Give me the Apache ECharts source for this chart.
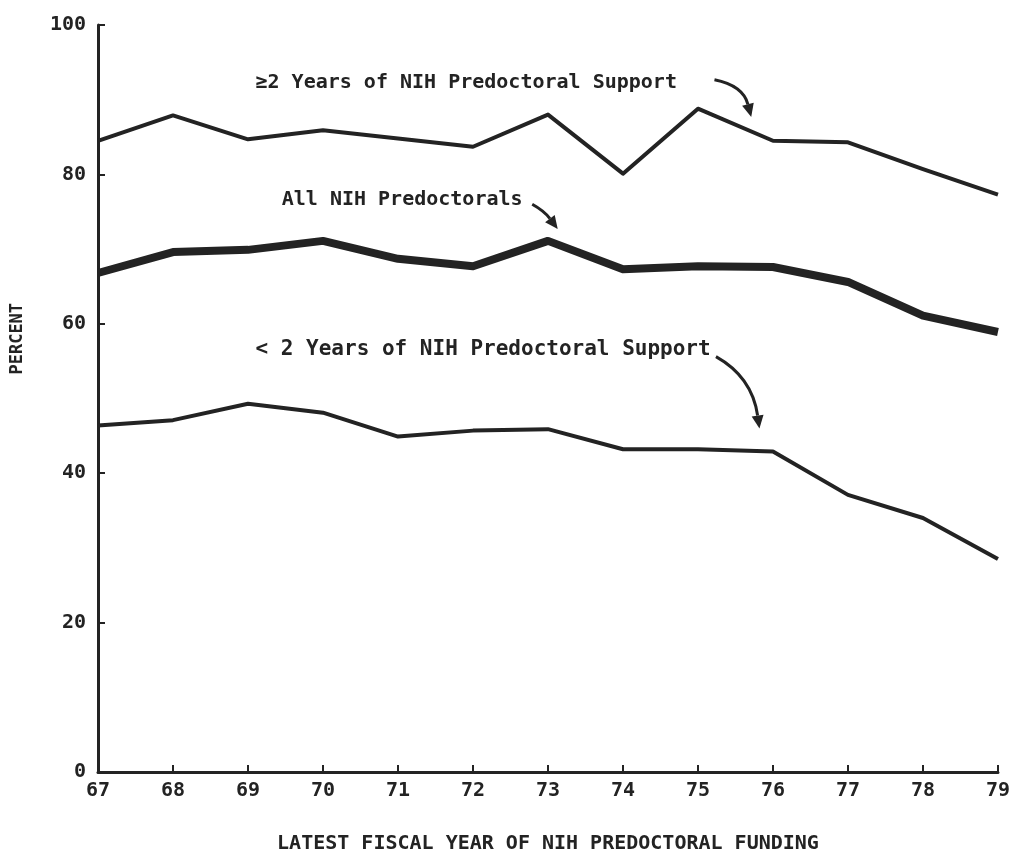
<!DOCTYPE html>
<html><head><meta charset="utf-8">
<script src="https://cdn.jsdelivr.net/npm/echarts@6/dist/echarts.min.js"></script>
<style>html,body{margin:0;padding:0;background:#fff}#c{width:1013px;height:859px}</style>
</head><body><div id="c"></div>
<script>
const years = [67,68,69,70,71,72,73,74,75,76,77,78,79];
const geTwoYears = [84.5,87.9,84.7,85.9,84.8,83.7,88.0,80.1,88.8,84.5,84.3,80.7,77.3];
const allNIH = [66.8,69.6,69.9,71.1,68.7,67.7,71.1,67.3,67.7,67.6,65.6,61.1,58.9];
const ltTwoYears = [46.4,47.1,49.3,48.1,44.9,45.7,45.9,43.2,43.2,42.9,37.1,34.0,28.5];
const yTicks = [0,20,40,60,80,100];

const FONT = '"DejaVu Sans Mono", monospace';
const INK = '#232323';
const pairs = a => years.map((y,i)=>[y,a[i]]);

const chart = echarts.init(document.getElementById('c'));
const line = (name, arr, w) => ({
  name, type:'line', data: pairs(arr), symbol:'none', silent:true,
  lineStyle:{color:INK, width:w, join:'round'}
});
chart.setOption({
  animation:false,
  grid:{left:98,right:13,top:25,bottom:84},
  xAxis:{type:'value',min:67,max:79,interval:1,
    axisLine:{lineStyle:{color:INK,width:3}},
    axisTick:{inside:true,length:7,lineStyle:{color:INK,width:2}},
    splitLine:{show:false},
    axisLabel:{color:INK,fontFamily:FONT,fontWeight:'bold',fontSize:20,margin:9},
    name:'LATEST FISCAL YEAR OF NIH PREDOCTORAL FUNDING',nameLocation:'middle',nameGap:62,
    nameTextStyle:{color:INK,fontFamily:FONT,fontWeight:'bold',fontSize:20}
  },
  yAxis:{type:'value',min:0,max:100,interval:20,
    axisLine:{show:true,lineStyle:{color:INK,width:3}},
    axisTick:{show:true,inside:true,length:7,lineStyle:{color:INK,width:2}},
    splitLine:{show:false},
    axisLabel:{color:INK,fontFamily:FONT,fontWeight:'bold',fontSize:20,margin:12,
      formatter:v=>yTicks.includes(v)?String(v):''}
  },
  series:[line('≥2 Years',geTwoYears,4), line('All NIH',allNIH,8), line('<2 Years',ltTwoYears,4)]
});

// annotations anchored in data coordinates
const P = (x,y)=>chart.convertToPixel({gridIndex:0},[x,y]);
const labels = [
  {text:'≥2 Years of NIH Predoctoral Support', at:[69.1,92.3], size:20},
  {text:'All NIH Predoctorals', at:[69.45,76.6], size:20},
  {text:'< 2 Years of NIH Predoctoral Support', at:[69.1,56.6], size:21}
];
const arrows = [
  {from:[75.22,92.67], ctrl:[75.6,91.9], to:[75.71,87.7]},
  {from:[72.79,76.0], ctrl:[72.95,75.1], to:[73.13,72.7]},
  {from:[75.24,55.6], ctrl:[75.72,52.9], to:[75.82,46.0]}
];
const g = [];
labels.forEach(l=>{
  const p = P(l.at[0],l.at[1]);
  g.push({type:'text',x:p[0],y:p[1],style:{text:l.text,fill:INK,font:'bold '+l.size+'px '+FONT,textVerticalAlign:'middle'}});
});
arrows.forEach(a=>{
  const s=P(...a.from), c=P(...a.ctrl), e=P(...a.to);
  const ang=Math.atan2(e[1]-c[1],e[0]-c[0]);
  const L=13,W=6;
  const bx=e[0]-L*Math.cos(ang), by=e[1]-L*Math.sin(ang);
  g.push({type:'bezierCurve',shape:{x1:s[0],y1:s[1],cpx1:c[0],cpy1:c[1],x2:bx,y2:by},
    style:{stroke:INK,lineWidth:3,fill:null}});
  g.push({type:'polygon',shape:{points:[e,[bx-W*Math.sin(ang),by+W*Math.cos(ang)],[bx+W*Math.sin(ang),by-W*Math.cos(ang)]]},
    style:{fill:INK}});
});
// y-axis name
const yc = P(67,58)[1];
g.push({type:'text',x:18,y:yc,rotation:Math.PI/2,style:{text:'PERCENT',fill:INK,font:'bold 17px '+FONT,textAlign:'center',textVerticalAlign:'middle'}});
chart.setOption({graphic:g});
</script></body></html>
